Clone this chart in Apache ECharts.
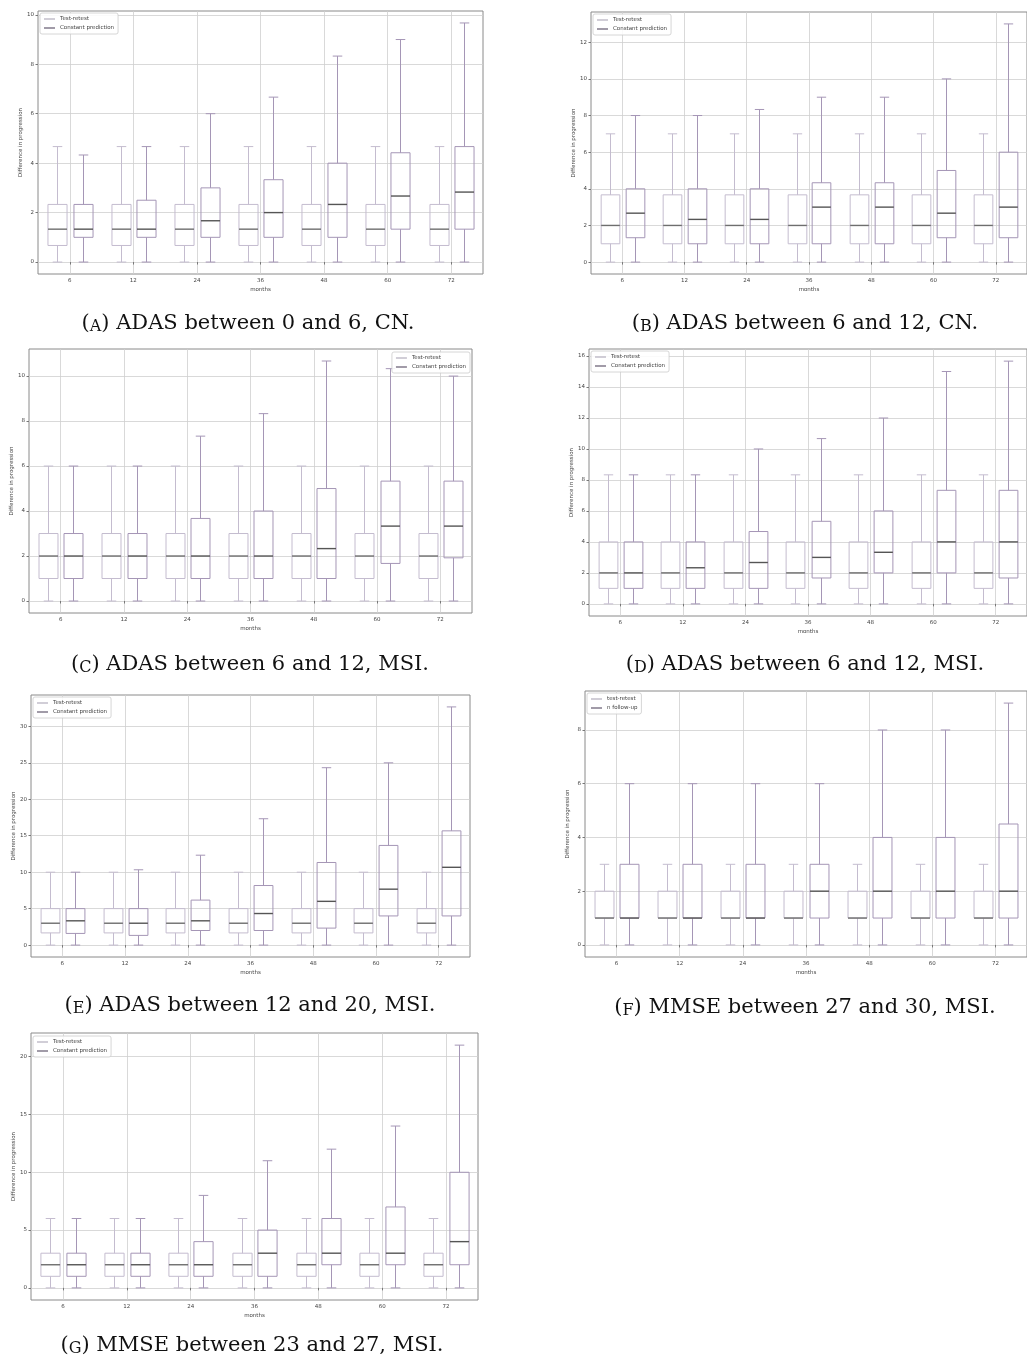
<!DOCTYPE html>
<html><head><meta charset="utf-8">
<script src="https://cdn.jsdelivr.net/npm/echarts@6/dist/echarts.min.js"></script>
<style>html,body{margin:0;padding:0;background:#fff}#c{width:1027px;height:1360px}</style>
</head><body><div id="c"></div>
<script>
// ---------- DATA ----------
const months = ['6', '12', '24', '36', '48', '60', '72'];
const legendStd = ['Test-retest', 'Constant prediction'];
const legendF = ['test-retest', 'n follow-up'];
const captionLetters = ['A', 'B', 'C', 'D', 'E', 'F', 'G'];
const captionTexts = [
  'ADAS between 0 and 6, CN.',
  'ADAS between 6 and 12, CN.',
  'ADAS between 6 and 12, MSI.',
  'ADAS between 6 and 12, MSI.',
  'ADAS between 12 and 20, MSI.',
  'MMSE between 27 and 30, MSI.',
  'MMSE between 23 and 27, MSI.'
];
// each row: [lower whisker, Q1, median, Q3, upper whisker], one row per month
const testA = [
  [0, 0.67, 1.33, 2.33, 4.67], [0, 0.67, 1.33, 2.33, 4.67], [0, 0.67, 1.33, 2.33, 4.67],
  [0, 0.67, 1.33, 2.33, 4.67], [0, 0.67, 1.33, 2.33, 4.67], [0, 0.67, 1.33, 2.33, 4.67],
  [0, 0.67, 1.33, 2.33, 4.67]];
const constA = [
  [0, 1, 1.33, 2.33, 4.33], [0, 1, 1.33, 2.5, 4.67], [0, 1, 1.67, 3, 6],
  [0, 1, 2, 3.33, 6.67], [0, 1, 2.33, 4, 8.33], [0, 1.33, 2.67, 4.42, 9],
  [0, 1.33, 2.83, 4.67, 9.67]];
const testB = [
  [0, 1, 2, 3.67, 7], [0, 1, 2, 3.67, 7], [0, 1, 2, 3.67, 7], [0, 1, 2, 3.67, 7],
  [0, 1, 2, 3.67, 7], [0, 1, 2, 3.67, 7], [0, 1, 2, 3.67, 7]];
const constB = [
  [0, 1.33, 2.67, 4, 8], [0, 1, 2.33, 4, 8], [0, 1, 2.33, 4, 8.33], [0, 1, 3, 4.33, 9],
  [0, 1, 3, 4.33, 9], [0, 1.33, 2.67, 5, 10], [0, 1.33, 3, 6, 13]];
const testC = [
  [0, 1, 2, 3, 6], [0, 1, 2, 3, 6], [0, 1, 2, 3, 6], [0, 1, 2, 3, 6],
  [0, 1, 2, 3, 6], [0, 1, 2, 3, 6], [0, 1, 2, 3, 6]];
const constC = [
  [0, 1, 2, 3, 6], [0, 1, 2, 3, 6], [0, 1, 2, 3.67, 7.33], [0, 1, 2, 4, 8.33],
  [0, 1, 2.33, 5, 10.67], [0, 1.67, 3.33, 5.33, 10.33], [0, 1.92, 3.33, 5.33, 10]];
const testD = [
  [0, 1, 2, 4, 8.33], [0, 1, 2, 4, 8.33], [0, 1, 2, 4, 8.33], [0, 1, 2, 4, 8.33],
  [0, 1, 2, 4, 8.33], [0, 1, 2, 4, 8.33], [0, 1, 2, 4, 8.33]];
const constD = [
  [0, 1, 2, 4, 8.33], [0, 1, 2.33, 4, 8.33], [0, 1, 2.67, 4.67, 10], [0, 1.67, 3, 5.33, 10.67],
  [0, 2, 3.33, 6, 12], [0, 2, 4, 7.33, 15], [0, 1.67, 4, 7.33, 15.67]];
const testE = [
  [0, 1.67, 3, 5, 10], [0, 1.67, 3, 5, 10], [0, 1.67, 3, 5, 10], [0, 1.67, 3, 5, 10],
  [0, 1.67, 3, 5, 10], [0, 1.67, 3, 5, 10], [0, 1.67, 3, 5, 10]];
const constE = [
  [0, 1.6, 3.33, 5, 10], [0, 1.33, 3, 5, 10.33], [0, 2, 3.33, 6.17, 12.33], [0, 2, 4.33, 8.17, 17.33],
  [0, 2.33, 6, 11.33, 24.33], [0, 4, 7.67, 13.67, 25], [0, 4, 10.67, 15.67, 32.67]];
const testF = [
  [0, 1, 1, 2, 3], [0, 1, 1, 2, 3], [0, 1, 1, 2, 3], [0, 1, 1, 2, 3],
  [0, 1, 1, 2, 3], [0, 1, 1, 2, 3], [0, 1, 1, 2, 3]];
const constF = [
  [0, 1, 1, 3, 6], [0, 1, 1, 3, 6], [0, 1, 1, 3, 6], [0, 1, 2, 3, 6],
  [0, 1, 2, 4, 8], [0, 1, 2, 4, 8], [0, 1, 2, 4.5, 9]];
const testG = [
  [0, 1, 2, 3, 6], [0, 1, 2, 3, 6], [0, 1, 2, 3, 6], [0, 1, 2, 3, 6],
  [0, 1, 2, 3, 6], [0, 1, 2, 3, 6], [0, 1, 2, 3, 6]];
const constG = [
  [0, 1, 2, 3, 6], [0, 1, 2, 3, 6], [0, 1, 2, 4, 8], [0, 1, 3, 5, 11],
  [0, 2, 3, 6, 12], [0, 2, 3, 7, 14], [0, 2, 4, 10, 21]];
const ticksA = [0, 2, 4, 6, 8, 10];
const ticksB = [0, 2, 4, 6, 8, 10, 12];
const ticksC = [0, 2, 4, 6, 8, 10];
const ticksD = [0, 2, 4, 6, 8, 10, 12, 14, 16];
const ticksE = [0, 5, 10, 15, 20, 25, 30];
const ticksF = [0, 2, 4, 6, 8];
const ticksG = [0, 5, 10, 15, 20];

// ---------- PANELS ----------
const panels = [
  { test: testA, cons: constA, ticks: ticksA, names: legendStd },
  { test: testB, cons: constB, ticks: ticksB, names: legendStd },
  { test: testC, cons: constC, ticks: ticksC, names: legendStd },
  { test: testD, cons: constD, ticks: ticksD, names: legendStd },
  { test: testE, cons: constE, ticks: ticksE, names: legendStd },
  { test: testF, cons: constF, ticks: ticksF, names: legendF },
  { test: testG, cons: constG, ticks: ticksG, names: legendStd }
];

// ---------- LAYOUT ----------
const layouts = [
  { grid: { left: 38, top: 11, width: 445, height: 263 }, legend: { left: 40, top: 13 }, cap: [248, 324] },
  { grid: { left: 591, top: 12, width: 440, height: 262 }, legend: { left: 593, top: 14 }, cap: [805, 324] },
  { grid: { left: 29, top: 349, width: 443, height: 264 }, legend: { right: 557, top: 352 }, cap: [250, 665] },
  { grid: { left: 589, top: 349, width: 449, height: 267 }, legend: { left: 591, top: 351 }, cap: [805, 665] },
  { grid: { left: 31, top: 695, width: 439, height: 262 }, legend: { left: 33, top: 697 }, cap: [250, 1006] },
  { grid: { left: 585, top: 691, width: 453, height: 266 }, legend: { left: 587, top: 693 }, cap: [805, 1008] },
  { grid: { left: 31, top: 1033, width: 447, height: 267 }, legend: { left: 33, top: 1036 }, cap: [252, 1346] }
];

const STY = {
  test: { box: '#c4bccf', med: '#6e6e6e', legend: '#b9b3c2' },
  cons: { box: '#a596b6', med: '#555555', legend: '#6f6579' }
};

function boxRenderer(side, st) {
  return function (params, api) {
    const i = api.value(0);
    const pLo = api.coord([i, api.value(1)]);
    const pQ1 = api.coord([i, api.value(2)]);
    const pMd = api.coord([i, api.value(3)]);
    const pQ3 = api.coord([i, api.value(4)]);
    const pHi = api.coord([i, api.value(5)]);
    const band = api.size([1, 0])[0];
    const cx = Math.round(pLo[0] + side * 0.2 * band) + 0.5;
    const hw = 0.15 * band, cw = 0.075 * band;
    const ls = { stroke: st.box, lineWidth: 1, fill: null };
    return {
      type: 'group',
      children: [
        { type: 'rect', shape: { x: cx - hw, y: pQ3[1], width: 2 * hw, height: pQ1[1] - pQ3[1] }, style: ls },
        { type: 'line', shape: { x1: cx, y1: pQ3[1], x2: cx, y2: pHi[1] }, style: ls },
        { type: 'line', shape: { x1: cx, y1: pQ1[1], x2: cx, y2: pLo[1] }, style: ls },
        { type: 'line', shape: { x1: cx - cw, y1: pHi[1], x2: cx + cw, y2: pHi[1] }, style: ls },
        { type: 'line', shape: { x1: cx - cw, y1: pLo[1], x2: cx + cw, y2: pLo[1] }, style: ls },
        { type: 'line', shape: { x1: cx - hw, y1: pMd[1], x2: cx + hw, y2: pMd[1] }, style: { stroke: st.med, lineWidth: 1.4 } }
      ]
    };
  };
}

const option = {
  animation: false, backgroundColor: '#fff',
  grid: [], xAxis: [], yAxis: [], series: [], legend: [], graphic: []
};
const smallTxt = { fontSize: 5.5, color: '#444', fontFamily: 'DejaVu Sans' };
const capFont = 'DejaVu Serif';

panels.forEach(function (p, i) {
  const L = layouts[i];
  const all = p.test.concat(p.cons);
  const hi = Math.max.apply(null, all.map(function (r) { return r[4]; }));
  const lo = Math.min.apply(null, all.map(function (r) { return r[0]; }));
  const span = hi - lo;
  option.grid.push(Object.assign({ show: true, borderColor: '#8a8a8a', borderWidth: 1, backgroundColor: 'transparent' }, L.grid));
  option.xAxis.push({
    type: 'category', gridIndex: i, data: months,
    name: 'months', nameLocation: 'middle', nameGap: 13, nameTextStyle: smallTxt,
    axisLine: { show: false },
    axisTick: { show: true, alignWithLabel: true, length: 2.5, lineStyle: { color: '#777' } },
    axisLabel: Object.assign({ margin: 4 }, smallTxt),
    splitLine: { show: true, alignWithLabel: true, lineStyle: { color: '#cfcfcf', width: 0.8 } }
  });
  option.yAxis.push({
    type: 'value', gridIndex: i, min: lo - 0.05 * span, max: hi + 0.05 * span,
    name: 'Difference in progression', nameLocation: 'middle', nameGap: 14, nameTextStyle: smallTxt,
    axisLine: { show: false },
    axisTick: { show: true, length: 2.5, customValues: p.ticks, lineStyle: { color: '#777' } },
    axisLabel: Object.assign({ margin: 4, customValues: p.ticks }, smallTxt),
    splitLine: { show: true, lineStyle: { color: '#cfcfcf', width: 0.8 } }
  });
  [p.test, p.cons].forEach(function (rows, s) {
    const st = s ? STY.cons : STY.test;
    option.series.push({
      type: 'custom', name: p.names[s], coordinateSystem: 'cartesian2d',
      xAxisIndex: i, yAxisIndex: i, silent: true, z: 3,
      itemStyle: { color: st.legend },
      encode: { x: 0, y: [1, 2, 3, 4, 5] },
      data: rows.map(function (r, k) { return [k].concat(r); }),
      renderItem: boxRenderer(s ? 1 : -1, st)
    });
  });
  option.legend.push(Object.assign({
    orient: 'vertical', data: p.names, icon: 'rect', itemWidth: 11, itemHeight: 1.3, itemGap: 3,
    textStyle: smallTxt, padding: [3, 4, 3, 4], borderColor: '#cccccc', borderWidth: 0.8, borderRadius: 2,
    backgroundColor: 'rgba(255,255,255,0.85)', selectedMode: false
  }, L.legend));
  option.graphic.push({
    type: 'text', x: L.cap[0], y: L.cap[1], silent: true,
    style: {
      text: '{p|(}{sc|' + captionLetters[i] + '}{p|) ' + captionTexts[i] + '}',
      rich: {
        p: { fontSize: 21, fontFamily: capFont, fill: '#111', verticalAlign: 'bottom' },
        sc: { fontSize: 16, fontFamily: capFont, fill: '#111', verticalAlign: 'bottom' }
      },
      align: 'center', verticalAlign: 'middle'
    }
  });
});

const chart = echarts.init(document.getElementById('c'), null, { renderer: 'canvas' });
chart.setOption(option);
</script>
</body></html>
